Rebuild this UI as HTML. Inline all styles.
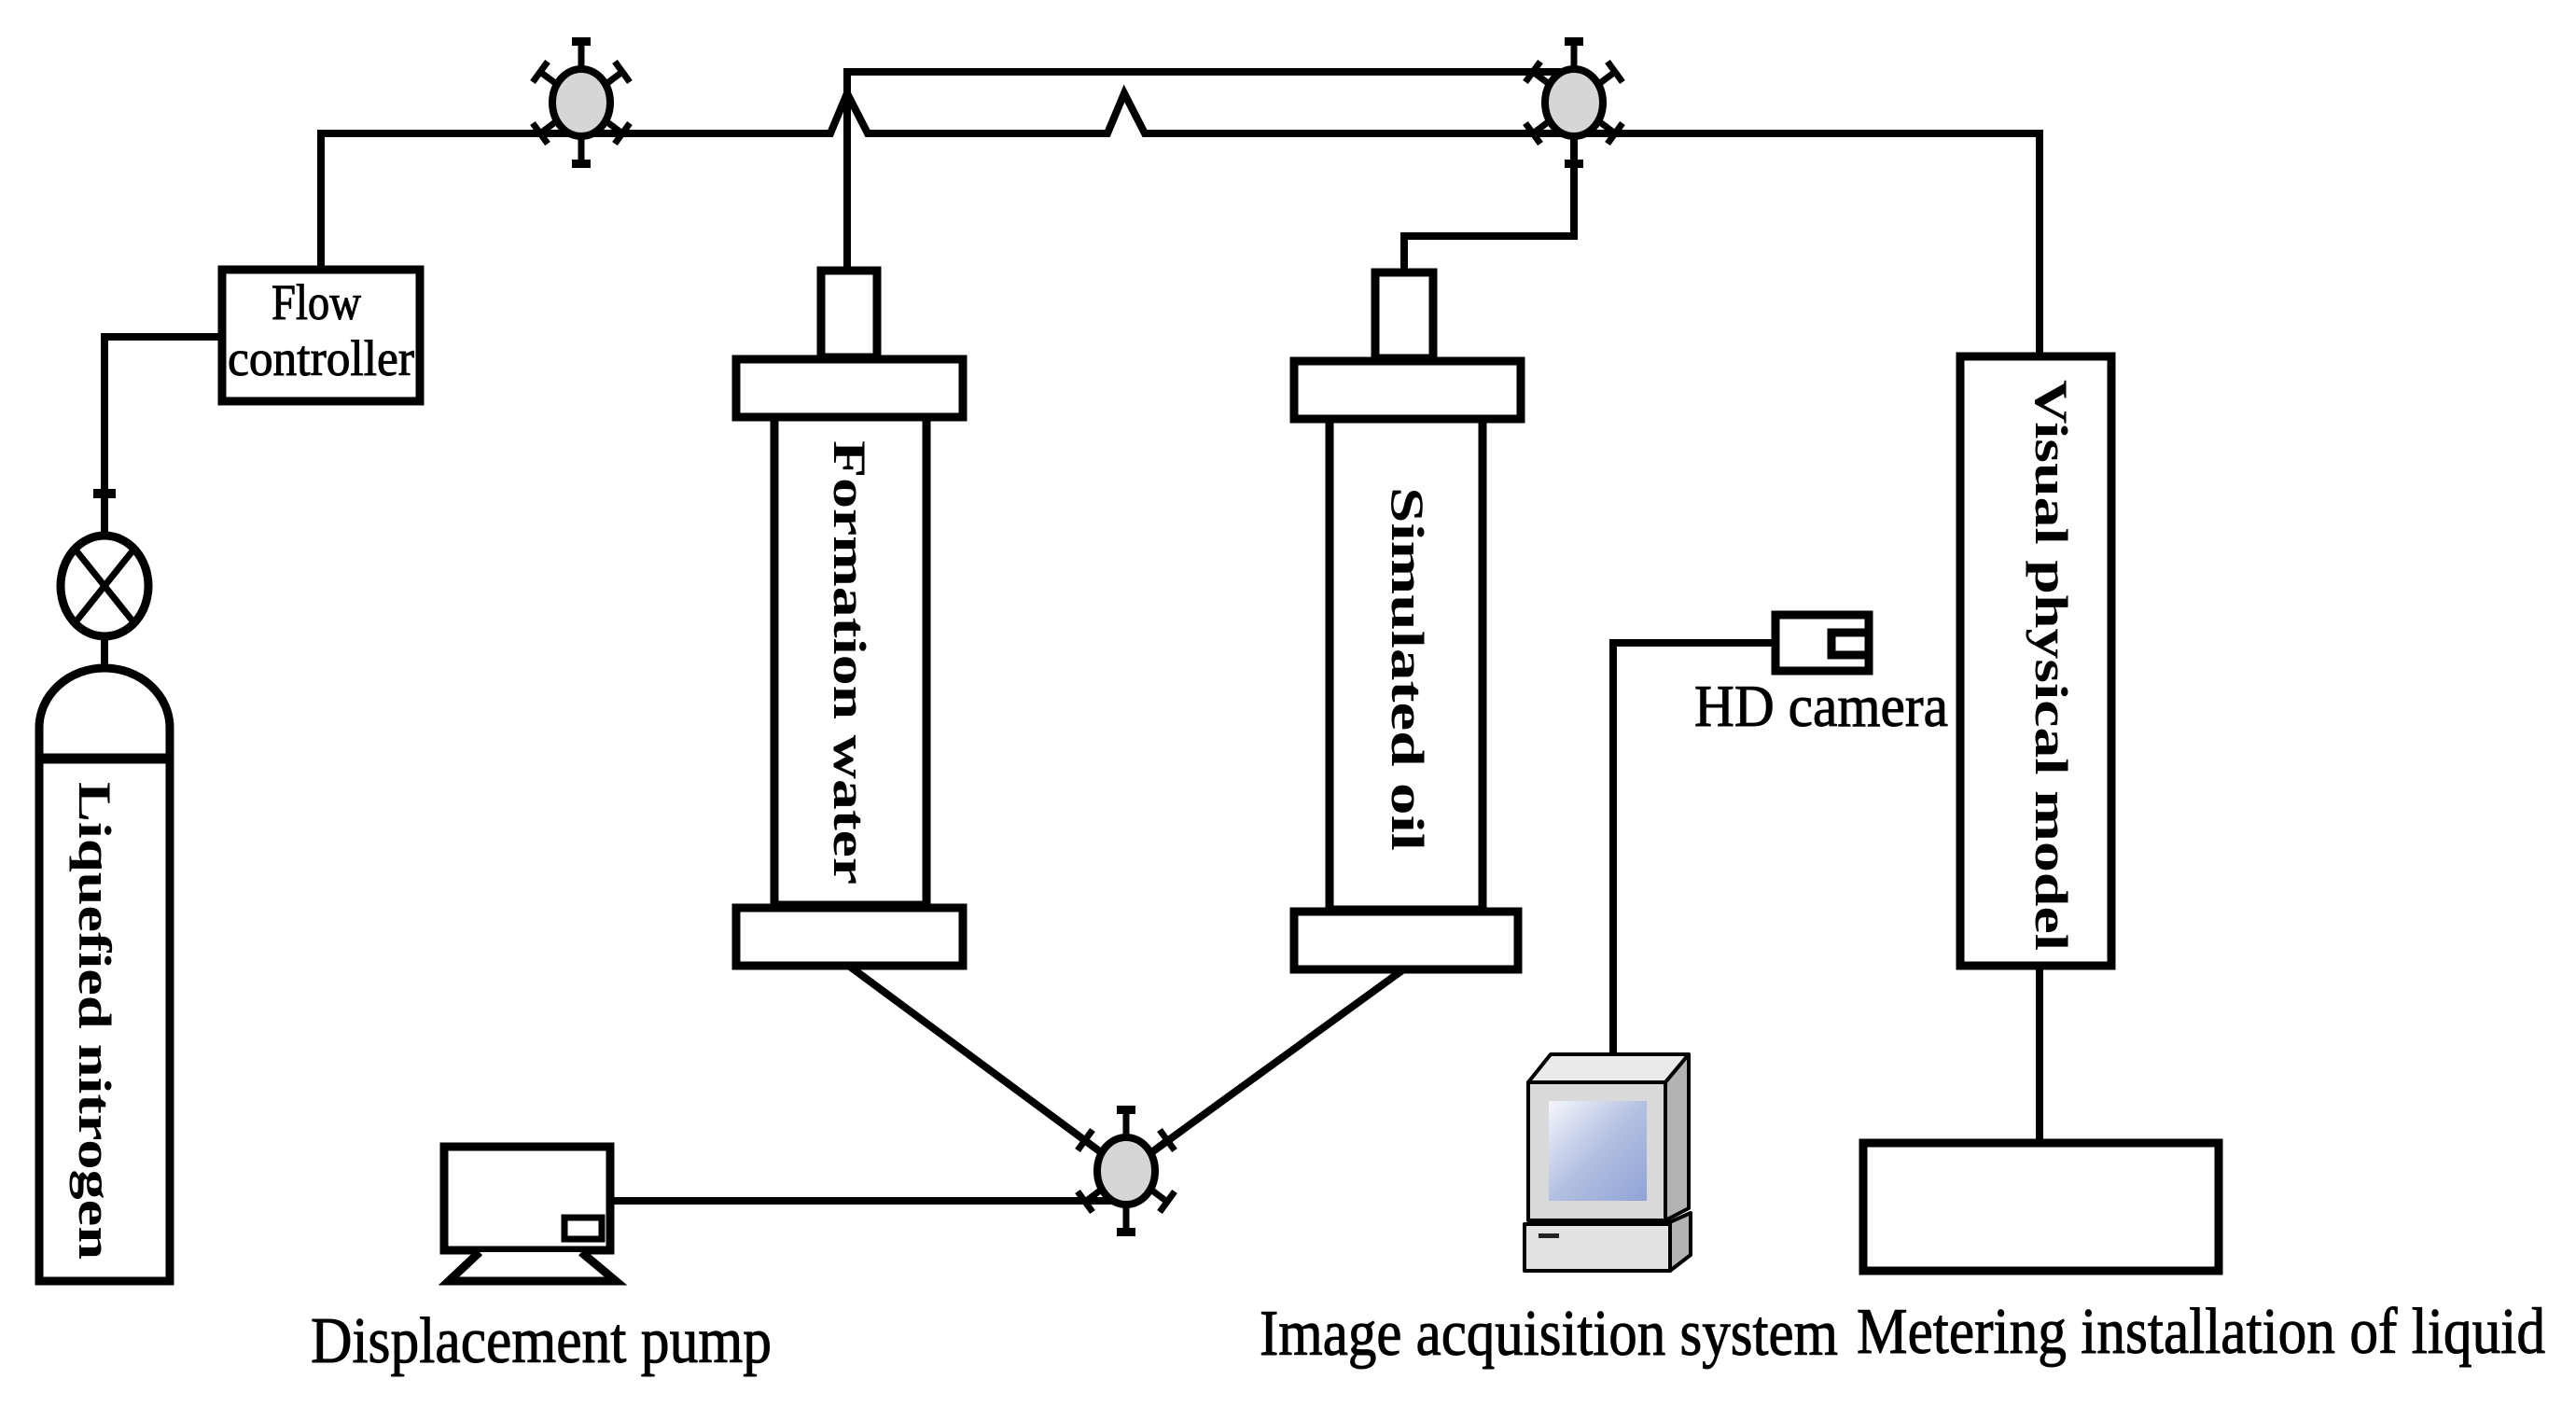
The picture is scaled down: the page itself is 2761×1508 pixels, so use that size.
<!DOCTYPE html>
<html><head><meta charset="utf-8"><style>
html,body{margin:0;padding:0;background:#fff;}
svg{display:block;}
</style></head><body>
<svg width="2761" height="1508" viewBox="0 0 2761 1508" xmlns="http://www.w3.org/2000/svg">
<defs>
<linearGradient id="scr" x1="0" y1="0" x2="1" y2="1">
<stop offset="0" stop-color="#f4f6fb"/><stop offset="0.5" stop-color="#b4c0e2"/><stop offset="1" stop-color="#8fa3d6"/>
</linearGradient>
<g id="valve">
<line x1="0" y1="0" x2="0" y2="-66" stroke="#000" stroke-width="7"/>
<line x1="0" y1="0" x2="0" y2="66" stroke="#000" stroke-width="7"/>
<rect x="-10" y="-70" width="20" height="9" fill="#000"/>
<rect x="-10" y="61" width="20" height="9" fill="#000"/>
<g stroke="#000" stroke-width="7" fill="none">
<line x1="0" y1="0" x2="-44" y2="-33"/><line x1="-52" y1="-22" x2="-36" y2="-44"/>
<line x1="0" y1="0" x2="44" y2="-33"/><line x1="52" y1="-22" x2="36" y2="-44"/>
<line x1="0" y1="0" x2="-44" y2="33"/><line x1="-52" y1="22" x2="-36" y2="44"/>
<line x1="0" y1="0" x2="44" y2="33"/><line x1="52" y1="22" x2="36" y2="44"/>
</g>
<ellipse cx="0" cy="0" rx="31" ry="36" fill="#d6d6d6" stroke="#000" stroke-width="8"/>
</g>
</defs>

<g fill="none" stroke="#000" stroke-width="8">
<polyline points="112,714 112,683"/>
<polyline points="112,573 112,361 237,361"/>
<line x1="100" y1="529" x2="124" y2="529" stroke-width="10"/>
<polyline points="344,288 344,143 623,143"/>
<polyline points="623,143 890,143 908,100 930,143 1187,143 1205,100 1227,143 1687,143"/>
<polyline points="908,288 908,77 1687,77"/>
<polyline points="1687,143 2186,143 2186,382"/>
<polyline points="1687,143 1687,253 1505,253 1505,291"/>
<line x1="911" y1="1036" x2="1207" y2="1255"/>
<line x1="1503" y1="1040" x2="1207" y2="1255"/>
<line x1="657" y1="1287" x2="1207" y2="1287"/>
<polyline points="1901,689 1729,689 1729,1130"/>
<line x1="2186" y1="1035" x2="2186" y2="1224"/>
</g>

<use href="#valve" x="623" y="110"/>
<use href="#valve" x="1687" y="110"/>
<use href="#valve" x="1207" y="1255"/>

<g fill="#fff" stroke="#000" stroke-width="9">
<ellipse cx="112" cy="628" rx="47" ry="54"/>
<path d="M42,813 L42,780 A70,64 0 0 1 182,780 L182,813 Z"/>
<rect x="42" y="813" width="140" height="560"/>
<rect x="238" y="289" width="212" height="141"/>
<rect x="880" y="290" width="60" height="93"/>
<rect x="789" y="385" width="243" height="62"/>
<rect x="830" y="447" width="163" height="523"/>
<rect x="789" y="973" width="243" height="62"/>
<rect x="1474" y="292" width="62" height="92"/>
<rect x="1387" y="387" width="243" height="62"/>
<rect x="1425" y="449" width="164" height="526"/>
<rect x="1387" y="977" width="240" height="62"/>
<rect x="2101" y="382" width="162" height="653"/>
<rect x="1997" y="1225" width="381" height="137"/>
<rect x="1903" y="659" width="100" height="60"/>
<rect x="1963" y="678" width="40" height="24"/>
<rect x="476" y="1229" width="178" height="111"/>
<rect x="605" y="1305" width="40" height="23" stroke-width="7"/>
<path d="M514,1342 L481,1373 L660,1373 L623,1342" stroke-width="9"/>
</g>
<line x1="42" y1="813" x2="182" y2="813" stroke="#000" stroke-width="11"/>
<g stroke="#000" stroke-width="7">
<line x1="80" y1="588" x2="144" y2="668"/><line x1="144" y1="588" x2="80" y2="668"/>
</g>

<g stroke="#000" stroke-width="4" stroke-linejoin="round">
<polygon points="1638,1160 1662,1130 1810,1130 1785,1160" fill="#e9eaec"/>
<polygon points="1785,1160 1810,1130 1810,1295 1785,1308" fill="#b3b3b3"/>
<rect x="1638" y="1160" width="147" height="148" fill="#d9d9d9"/>
<polygon points="1785,1312 1812,1300 1812,1345 1790,1362" fill="#b3b3b3"/>
<rect x="1634" y="1312" width="156" height="50" fill="#e2e2e2"/>
</g>
<rect x="1660" y="1180" width="105" height="107" fill="url(#scr)"/>
<rect x="1649" y="1322" width="22" height="5" fill="#222"/>

<g font-family="'Liberation Serif', serif" fill="#000" stroke="#000" stroke-width="1">
<text x="339" y="342" font-size="54" text-anchor="middle" textLength="96" lengthAdjust="spacingAndGlyphs">Flow</text>
<text x="344" y="402" font-size="54" text-anchor="middle" textLength="200" lengthAdjust="spacingAndGlyphs">controller</text>
<text x="1952" y="778" font-size="64" text-anchor="middle" textLength="272" lengthAdjust="spacingAndGlyphs">HD camera</text>
<text x="333" y="1460" font-size="70" textLength="494" lengthAdjust="spacingAndGlyphs">Displacement pump</text>
<text x="1350" y="1452" font-size="70" textLength="620" lengthAdjust="spacingAndGlyphs">Image acquisition system</text>
<text x="1990" y="1450" font-size="70" textLength="738" lengthAdjust="spacingAndGlyphs">Metering installation of liquid</text>
<g font-weight="bold" font-size="50" stroke-width="0">
<text transform="translate(894,472) rotate(90)" textLength="476" lengthAdjust="spacingAndGlyphs">Formation water</text>
<text transform="translate(1492,522) rotate(90)" textLength="390" lengthAdjust="spacingAndGlyphs">Simulated oil</text>
<text transform="translate(2182,407) rotate(90)" textLength="612" lengthAdjust="spacingAndGlyphs">Visual physical model</text>
<text transform="translate(85,838) rotate(90)" textLength="512" lengthAdjust="spacingAndGlyphs">Liquefied nitrogen</text>
</g>
</g>
</svg>
</body></html>
